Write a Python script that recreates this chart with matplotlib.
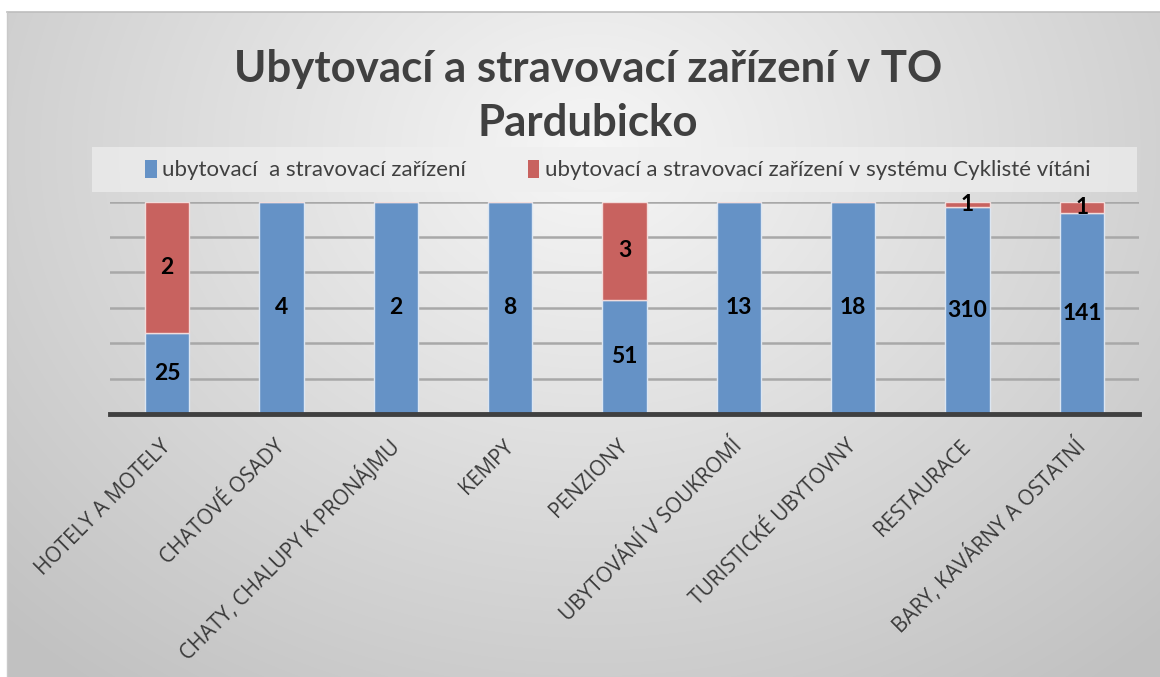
import numpy as np
import matplotlib.pyplot as plt
from matplotlib.patches import Rectangle, Patch

# data (bar shares, labels as printed)
categories = [
    "HOTELY A MOTELY",
    "CHATOVÉ OSADY",
    "CHATY, CHALUPY K PRONÁJMU",
    "KEMPY",
    "PENZIONY",
    "UBYTOVÁNÍ V SOUKROMÍ",
    "TURISTICKÉ UBYTOVNY",
    "RESTAURACE",
    "BARY, KAVÁRNY A OSTATNÍ",
]
blue_share = [0.38, 1.0, 1.0, 1.0, 0.537, 1.0, 1.0, 0.976, 0.945]
red_share = [0.62, 0.0, 0.0, 0.0, 0.463, 0.0, 0.0, 0.024, 0.055]
blue_labels = ["25", "4", "2", "8", "51", "13", "18", "310", "141"]
red_labels = ["2", "", "", "", "3", "", "", "1", "1"]

series_names = [
    "ubytovací  a stravovací zařízení",
    "ubytovací a stravovací zařízení v systému Cyklisté vítáni",
]

BLUE = "#6592C6"
RED = "#C8625F"
TXT = "#404040"

fig = plt.figure(figsize=(11.6, 6.77), dpi=100)

#######################################################
### background (radial gray gradient inside the chart frame)

bg = fig.add_axes([0, 0, 1, 1], zorder=-10)
bg.set_axis_off()
bg.set_xlim(0, 1160)
bg.set_ylim(677, 0)
yy, xx = np.mgrid[0:677, 0:1160]
r = np.sqrt(((xx - 590) / 760.0) ** 2 + ((yy - 150) / 620.0) ** 2)
shade = np.clip(0.965 - 0.19 * r, 0.76, 0.97)
img = np.dstack([shade, shade, shade])
img[:12, :, :] = 1.0
img[:, :7, :] = 1.0
bg.imshow(img, extent=(0, 1160, 677, 0), aspect="auto", interpolation="bilinear")
bg.plot([7, 1160], [12, 12], color="#BDBDBD", lw=1.2)
bg.plot([7, 7], [12, 677], color="#C9C9C9", lw=1.0)

# legend band
bg.add_patch(Rectangle((92, 147), 1045, 45, facecolor="#EFEFEF", alpha=0.7,
                       edgecolor="none"))

#######################################################
### bars

ax = fig.add_axes([110 / 1160, 1 - 414 / 677, 1029 / 1160, 212.3 / 677])
ax.patch.set_alpha(0)

x = np.arange(len(categories))
w = 0.385

ax.bar(x, blue_share, width=w, color=BLUE, edgecolor="#DCE6F2", linewidth=1.0,
       zorder=3)
ax.bar(x, red_share, width=w, bottom=blue_share, color=RED,
       edgecolor="#F2DCDB", linewidth=1.0, zorder=3)

for i in range(len(categories)):
    ax.text(x[i], blue_share[i] / 2, blue_labels[i], ha="center", va="center",
            fontsize=16.5, fontweight="bold", family="Lato", color="black",
            zorder=5)
    if red_labels[i]:
        ax.text(x[i], blue_share[i] + red_share[i] / 2, red_labels[i],
                ha="center", va="center", fontsize=16.5, fontweight="bold",
                family="Lato", color="black", zorder=5)

ax.set_xlim(-0.5, len(categories) - 0.5)
ax.set_ylim(0, 1)
ax.set_yticks([i / 6 for i in range(1, 7)])
ax.yaxis.grid(True, color="#A8A8A8", linewidth=1.8, zorder=0)
ax.tick_params(axis="y", left=False, labelleft=False)
ax.tick_params(axis="x", length=0, pad=21)
for s in ["top", "left", "right"]:
    ax.spines[s].set_visible(False)
ax.spines["bottom"].set_color("#404040")
ax.spines["bottom"].set_linewidth(3.5)
ax.spines["bottom"].set_zorder(6)

ax.set_xticks(x)
ax.set_xticklabels(categories, rotation=45, ha="right", va="center",
                   rotation_mode="anchor", fontsize=15, family="Open Sans",
                   color="#3A3A3A")

#######################################################
### title and legend

fig.text(588 / 1160, 1 - 96 / 677,
         "Ubytovací a stravovací zařízení v TO\nPardubicko",
         ha="center", va="center", fontsize=31.5, fontweight="bold",
         family="Lato", color=TXT, linespacing=1.45)

handles = [Patch(facecolor=BLUE, edgecolor="none"),
           Patch(facecolor=RED, edgecolor="none")]
fig.legend(handles, series_names, loc="center",
           bbox_to_anchor=(618 / 1160, 1 - 170 / 677), ncol=2, frameon=False,
           prop={"family": "Lato", "size": 16}, labelcolor=TXT,
           handlelength=0.5, handleheight=0.9, handletextpad=0.25,
           columnspacing=2.8)

fig.savefig("out.png", dpi=100)
